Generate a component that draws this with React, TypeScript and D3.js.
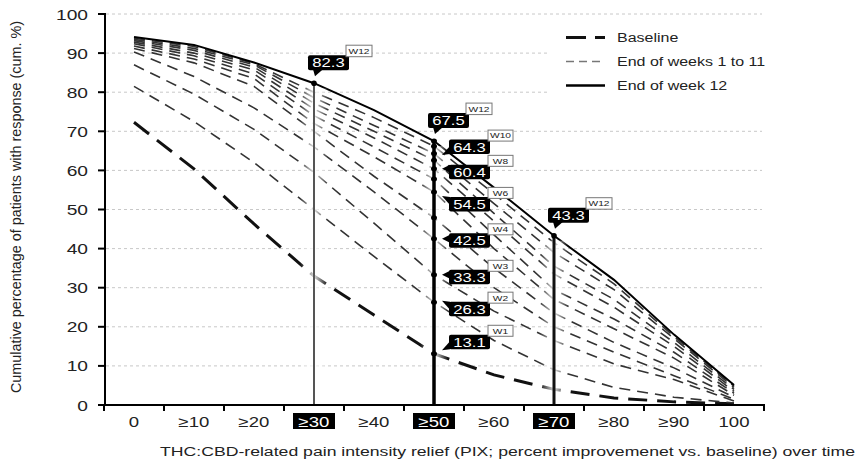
import * as d3 from 'd3';

// categories of pain relief (PIX)
const categories = ['0', '≥10', '≥20', '≥30', '≥40', '≥50', '≥60', '≥70', '≥80', '≥90', '100'];
const highlighted = ['≥30', '≥50', '≥70'];
const weeks = ['W1', 'W2', 'W3', 'W4', 'W5', 'W6', 'W7', 'W8', 'W9', 'W10', 'W11', 'W12'];

// cumulative % of patients, one array per week
const w1 = [72.3, 60.4, 46.3, 33.0, 23.0, 13.1, 7.7, 4.0, 1.8, 0.8, 0.3];
const w2 = [81.5, 72.5, 62.0, 50.0, 38.0, 26.3, 16.5, 9.0, 4.5, 2.0, 0.5];
const w3 = [87.0, 79.5, 70.5, 59.5, 46.5, 33.3, 24.0, 16.5, 10.5, 6.5, 1.0];
const w4 = [90.3, 84.0, 76.0, 66.0, 54.5, 42.5, 30.0, 20.0, 13.5, 7.5, 1.5];
const w5 = [91.2, 87.5, 81.5, 70.0, 58.5, 47.9, 35.0, 23.5, 16.0, 9.5, 2.0];
const w6 = [91.8, 88.5, 83.5, 72.0, 63.5, 54.5, 40.0, 27.0, 19.5, 12.0, 2.5];
const w7 = [92.4, 89.3, 84.7, 74.0, 66.0, 57.8, 43.5, 29.5, 22.0, 13.5, 3.0];
const w8 = [92.8, 90.0, 85.7, 75.7, 68.3, 60.4, 47.0, 33.5, 25.0, 15.0, 3.5];
const w9 = [93.2, 90.7, 86.4, 77.2, 70.0, 62.6, 49.0, 35.5, 27.0, 16.0, 4.0];
const w10 = [93.5, 91.2, 87.0, 78.6, 71.5, 64.3, 51.5, 39.0, 29.5, 17.0, 4.5];
const w11 = [93.8, 91.7, 87.3, 80.0, 73.5, 66.2, 54.0, 41.5, 31.0, 17.5, 4.8];
const w12 = [94.1, 92.1, 87.6, 82.3, 75.4, 67.5, 55.6, 43.3, 32.0, 18.0, 5.1];
const series = [w1, w2, w3, w4, w5, w6, w7, w8, w9, w10, w11, w12];

const yTicks = [0, 10, 20, 30, 40, 50, 60, 70, 80, 90, 100];
const sideLabels = ['W10', 'W8', 'W6', 'W4', 'W3', 'W2', 'W1'];
const legendItems = ['Baseline', 'End of weeks 1 to 11', 'End of week 12'];

const W = 858;
const H = 462;
const SX = 1.28; // source figure is stretched horizontally
const FONT = 'Liberation Sans, Arial, sans-serif';

// nudges of the side callouts (box top relative to its dot)
const sideShift: Record<string, number> = { W10: -14, W8: -4, W6: 5, W4: -5.5, W3: -5, W2: -0.5, W1: -19 };

function T({ x, y, size, anchor = 'start', fill = '#222', children }: any) {
  return (
    <text
      transform={`translate(${x},${y}) scale(${SX},1)`}
      fontSize={size}
      fontFamily={FONT}
      textAnchor={anchor}
      fill={fill}
    >
      {children}
    </text>
  );
}

export default function App() {
  const x = d3.scaleBand().domain(categories).range([104, 764]);
  const cx = (c: string) => (x(c) as number) + x.bandwidth() / 2;
  const y = d3.scaleLinear().domain([0, 100]).range([405, 14]);

  const line = d3
    .line<number>()
    .x((_, i) => cx(categories[i]))
    .y((d) => y(d));

  const styleFor = (i: number) => {
    if (i === 0) return { stroke: '#111', width: 3, dash: '19,10' };
    if (i === series.length - 1) return { stroke: '#000', width: 2, dash: null };
    return { stroke: '#333', width: 1.6, dash: '11,7' };
  };

  const top = series[series.length - 1];
  const i50 = categories.indexOf('≥50');

  const topBox = (c: string) => {
    const v = top[categories.indexOf(c)];
    const px = cx(c);
    const py = y(v);
    const bx = px - 6;
    const by = py - 13 - 15;
    return (
      <g key={'top' + c}>
        <rect x={bx} y={by} width={41} height={15} rx={2} fill="#000" />
        <path d={`M${px - 1},${by + 14} L${px + 9},${by + 14} L${px + 1},${by + 21} Z`} fill="#000" />
        <T x={bx + 20.5} y={by + 12} size={13} anchor="middle" fill="#fff">
          {v.toFixed(1)}
        </T>
        <rect x={bx + 38} y={by - 10} width={26} height={11.5} fill="#fff" stroke="#777" strokeWidth={1} />
        <T x={bx + 51} y={by - 1.3} size={8} anchor="middle" fill="#222">
          W12
        </T>
      </g>
    );
  };

  const sideBox = (wk: string) => {
    const v = series[weeks.indexOf(wk)][i50];
    const dotY = y(v);
    const bx = cx('≥50') + 15;
    const by = dotY + sideShift[wk];
    const bh = 14.5;
    const py = Math.max(by + 4, Math.min(by + bh - 4, dotY));
    const tipY = Math.max(by - 1, Math.min(by + bh + 1, dotY + (dotY - py) * 0.6));
    return (
      <g key={'side' + wk}>
        <rect x={bx} y={by} width={41} height={bh} rx={2} fill="#000" />
        <path d={`M${bx + 1},${py - 4} L${bx + 1},${py + 4} L${bx - 7},${tipY} Z`} fill="#000" />
        <T x={bx + 20.5} y={by + 12} size={13} anchor="middle" fill="#fff">
          {v.toFixed(1)}
        </T>
        <rect x={bx + 39} y={by - 9.5} width={25} height={11} fill="#fff" stroke="#777" strokeWidth={1} />
        <T x={bx + 51.5} y={by - 1.1} size={8} anchor="middle" fill="#222">
          {wk}
        </T>
      </g>
    );
  };

  return (
    <svg width={W} height={H} style={{ position: 'absolute', left: 0, top: 0, background: '#fff' }}>
      <defs>
        <linearGradient id="fade" x1="0" x2="1" y1="0" y2="0">
          <stop offset="0" stopColor="#fff" stopOpacity={0} />
          <stop offset="0.5" stopColor="#fff" stopOpacity={0.85} />
          <stop offset="1" stopColor="#fff" stopOpacity={0} />
        </linearGradient>
      </defs>

      {/* grid */}
      {yTicks.slice(1).map((t) => (
        <line key={'g' + t} x1={106} x2={762} y1={y(t)} y2={y(t)} stroke="#c8c8c8" strokeWidth={1} strokeDasharray="3,3" />
      ))}

      {/* series */}
      {series.map((s, i) => {
        const st = styleFor(i);
        return (
          <path
            key={'s' + i}
            d={line(s) as string}
            fill="none"
            stroke={st.stroke}
            strokeWidth={st.width}
            strokeDasharray={st.dash ?? undefined}
          />
        );
      })}

      {/* fading bands around highlighted columns */}
      {highlighted.map((c) => (
        <rect key={'f' + c} x={cx(c) - 14} y={y(top[categories.indexOf(c)]) + 5} width={28} height={405 - y(top[categories.indexOf(c)]) - 4} fill="url(#fade)" />
      ))}

      {/* highlighted verticals */}
      <line x1={cx('≥30')} x2={cx('≥30')} y1={y(top[3])} y2={405} stroke="#555" strokeWidth={2} />
      <line x1={cx('≥50')} x2={cx('≥50')} y1={y(top[5])} y2={405} stroke="#000" strokeWidth={3.5} />
      <line x1={cx('≥70')} x2={cx('≥70')} y1={y(top[7])} y2={405} stroke="#111" strokeWidth={3} />

      {/* dots */}
      {series.map((s, i) => (
        <ellipse key={'d' + i} cx={cx('≥50')} cy={y(s[i50])} rx={3} ry={2.5} fill="#000" />
      ))}
      <circle cx={cx('≥30')} cy={y(top[3])} r={2.8} fill="#000" />
      <circle cx={cx('≥70')} cy={y(top[7])} r={2.8} fill="#000" />

      {/* axes */}
      <line x1={105} x2={105} y1={13} y2={406} stroke="#000" strokeWidth={2} />
      <line x1={104} x2={765} y1={405} y2={405} stroke="#000" strokeWidth={2} />
      {yTicks.map((t) => (
        <g key={'yt' + t}>
          <line x1={98} x2={105} y1={y(t)} y2={y(t)} stroke="#000" strokeWidth={2} />
          <T x={88} y={y(t) + 5.5} size={15} anchor="end">
            {t}
          </T>
        </g>
      ))}
      {categories.concat(['end']).map((c, i) => {
        const xx = 104 + i * x.bandwidth();
        return <line key={'xt' + i} x1={xx} x2={xx} y1={405} y2={411} stroke="#000" strokeWidth={2} />;
      })}
      {categories.map((c) => {
        const hl = highlighted.includes(c);
        return (
          <g key={'xl' + c}>
            {hl && <rect x={cx(c) - 21} y={413} width={42} height={16} fill="#000" />}
            <T x={cx(c)} y={426.5} size={14.5} anchor="middle" fill={hl ? '#fff' : '#222'}>
              {c}
            </T>
          </g>
        );
      })}

      {/* axis titles */}
      <text
        transform="translate(21,207) rotate(-90)"
        fontSize={14}
        fontFamily={FONT}
        textAnchor="middle"
        fill="#222"
        textLength={372}
        lengthAdjust="spacingAndGlyphs"
      >
        Cumulative percentage of patients with response (cum. %)
      </text>
      <text
        x={160}
        y={456}
        fontSize={12}
        fontFamily={FONT}
        fill="#222"
        textLength={695}
        lengthAdjust="spacingAndGlyphs"
      >
        THC:CBD-related pain intensity relief (PIX; percent improvemenet vs. baseline) over time
      </text>

      {/* legend */}
      <rect x={548} y={18} width={216} height={92} fill="#fff" />
      {legendItems.map((lab, i) => {
        const st = styleFor(i === 0 ? 0 : i === 1 ? 1 : series.length - 1);
        const ly = 37.5 + i * 24;
        return (
          <g key={'lg' + i}>
            <line
              x1={566}
              x2={605}
              y1={ly}
              y2={ly}
              stroke={i === 1 ? '#777' : st.stroke}
              strokeWidth={i === 1 ? 1.5 : st.width + (i === 2 ? 0.5 : 0)}
              strokeDasharray={i === 0 ? '20,9' : i === 1 ? '8,5' : undefined}
            />
            <T x={617} y={ly + 4.5} size={12.5}>
              {lab}
            </T>
          </g>
        );
      })}

      {/* callouts */}
      {highlighted.map((c) => topBox(c))}
      {sideLabels.map((wk) => sideBox(wk))}
    </svg>
  );
}
